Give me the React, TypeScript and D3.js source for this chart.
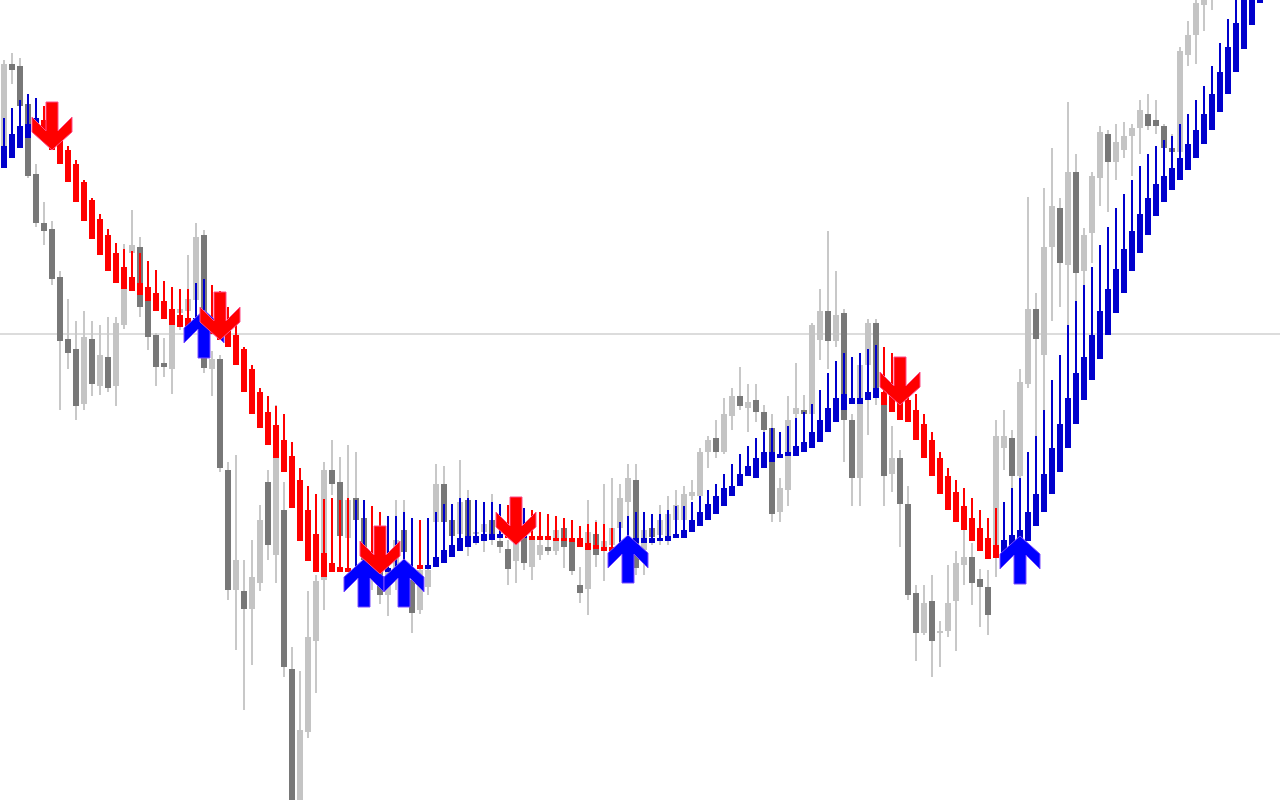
import React from 'react';
import * as d3 from 'd3';

// Price candles (price points; higher = higher on chart)
const candleOpen = [
  654,736,734,696,626,577,571,523,461,451,
  396,461,414,443,414,475,547,553,499,465,
  437,431,487,489,500,565,431,441,330,210,
  209,191,217,318,245,290,131,0,68,159,
  220,330,318,262,302,282,225,230,205,225,
  270,220,190,213,278,316,280,266,300,266,
  268,280,259,251,239,270,233,245,253,249,
  272,258,215,211,266,250,255,272,298,320,
  250,272,265,260,280,280,304,304,348,362,
  348,384,404,392,400,388,372,288,310,386,
  390,386,460,489,459,487,380,322,435,477,
  402,326,342,296,207,167,199,167,169,199,
  235,243,221,213,250,352,362,324,416,491,
  445,553,592,535,628,529,567,622,666,638,
  650,664,672,686,680,674,652,648,745,765,
  795,805,828,850,840,875,895,915,935,955,
];
const candleHigh = [
  740,747,742,698,636,598,579,529,501,479,
  489,479,475,483,483,556,590,563,503,467,
  462,500,501,545,577,570,449,445,338,345,
  240,260,295,330,395,318,153,129,209,225,
  338,360,343,355,348,300,280,245,240,300,
  300,240,245,240,336,334,295,340,310,280,
  295,306,274,260,290,285,270,265,260,280,
  282,265,233,300,280,316,322,316,336,336,
  280,285,295,304,310,314,320,352,364,380,
  402,412,433,416,416,395,386,322,404,437,
  405,477,511,569,529,491,386,440,481,481,
  406,374,350,314,215,215,225,179,235,249,
  275,257,231,230,380,390,370,431,603,507,
  612,652,602,698,646,572,628,674,670,676,
  678,676,700,706,700,676,666,753,779,805,
  820,840,860,870,885,905,925,945,960,980,
];
const candleLow = [
  650,716,690,622,573,555,515,390,431,380,
  390,404,405,408,394,471,530,483,450,414,
  423,406,470,480,495,427,404,328,200,150,
  90,135,209,240,217,123,-10,-10,62,107,
  190,305,260,255,275,225,210,196,184,210,
  200,167,186,205,240,243,255,260,244,255,
  248,255,247,215,217,230,220,240,245,245,
  232,225,197,185,233,219,245,260,280,225,
  225,255,255,255,270,270,300,297,332,342,
  346,370,390,368,378,360,278,278,294,380,
  370,380,440,431,453,338,294,294,365,395,
  294,308,253,200,139,165,123,133,163,149,
  215,195,173,165,223,330,300,320,412,364,
  390,479,493,475,499,515,537,594,588,620,
  642,624,646,670,666,650,645,645,734,736,
  769,790,815,830,830,860,880,905,925,945,
];
const candleClose = [
  736,730,694,624,577,569,521,459,447,394,
  463,416,445,412,477,511,555,493,463,433,
  433,475,491,501,563,432,441,332,210,240,
  191,223,280,255,355,133,0,70,163,219,
  330,316,264,300,280,240,245,205,230,260,
  248,187,230,230,316,278,264,298,264,268,
  276,260,253,231,274,237,260,255,249,270,
  253,229,207,268,245,259,272,302,322,232,
  270,263,280,286,295,306,308,348,360,348,
  386,404,394,398,388,370,286,312,380,392,
  386,475,489,459,485,380,322,435,477,402,
  324,342,296,205,167,197,159,169,197,237,
  243,217,213,185,364,364,324,418,491,461,
  553,594,537,628,527,565,624,668,638,658,
  664,672,690,674,674,652,648,749,765,797,
  810,830,850,840,875,895,915,935,955,970,
];

// Trend indicator bars (close > open = up/blue, else down/red)
const indHigh = [
  682,692,700,706,702,694,688,662,654,640,
  620,602,586,571,557,551,549,547,539,530,
  519,513,511,511,517,521,515,509,493,479,
  453,435,412,404,394,386,358,332,314,306,
  301,302,300,302,300,300,294,288,284,284,
  288,282,280,282,288,296,296,302,302,300,
  298,298,296,295,294,292,290,288,286,284,
  282,280,274,276,278,276,272,278,284,288,
  288,286,286,290,294,294,298,304,310,316,
  326,336,346,354,362,368,372,368,374,382,
  388,396,410,427,439,447,443,447,451,455,
  453,447,439,406,406,386,368,348,332,320,
  312,302,290,282,292,298,312,322,348,364,
  390,420,445,475,499,515,533,555,573,592,
  606,620,634,646,654,660,664,676,686,700,
  714,734,757,781,805,825,850,875,900,925,
];
const indOpen = [
  632,642,652,662,670,680,672,660,650,636,
  618,600,581,565,547,533,523,517,513,507,
  499,491,485,482,472,472,478,474,470,465,
  451,431,408,388,375,360,344,320,290,266,
  247,237,233,232,228,228,232,232,228,228,
  228,228,235,231,233,237,243,249,253,257,
  259,260,262,266,266,262,264,264,264,262,
  262,262,262,257,255,253,253,249,255,257,
  257,257,259,259,262,262,268,274,280,286,
  294,304,314,324,322,332,338,342,344,344,
  348,352,358,368,378,390,396,396,400,402,
  408,404,400,400,390,376,360,342,324,308,
  294,282,272,262,255,245,250,253,259,274,
  288,306,328,352,376,400,420,441,465,487,
  507,529,547,565,584,598,610,620,630,642,
  656,670,688,706,728,751,775,797,820,845,
];
const indClose = [
  654,666,674,676,682,660,650,636,618,598,
  579,561,545,529,517,511,509,505,499,489,
  481,475,473,470,482,482,466,460,453,435,
  408,386,372,355,342,328,292,259,239,228,
  223,228,228,228,232,232,228,228,232,232,
  232,232,231,235,243,250,255,262,264,264,
  266,266,266,262,262,266,260,260,260,259,
  259,258,253,250,251,249,249,255,260,262,
  262,262,262,264,266,270,280,288,296,304,
  312,314,326,334,342,348,348,346,348,354,
  358,368,380,392,402,406,402,402,408,412,
  395,388,380,378,360,342,324,306,290,278,
  270,259,249,241,242,260,265,270,288,306,
  326,352,376,402,427,443,465,489,511,531,
  551,569,586,602,616,624,632,642,656,670,
  686,706,728,753,777,802,825,850,875,900,
];

// Signal arrows: bar index and tip price
const upArrowIdx = [25, 45, 50, 78, 127];
const upArrowPrice = [490, 241, 241, 265, 264];
const downArrowIdx = [6, 27, 47, 64, 112];
const downArrowPrice = [650, 460, 226, 255, 395];

const levelLine = 466;

const W = 1280;
const H = 800;

const UP_SHAPE: [number, number][] = [
  [0, 0], [20, 18], [20, 33], [6, 19], [6, 48], [-6, 48], [-6, 19], [-20, 33], [-20, 18],
];

export default function App() {
  const n = candleOpen.length;
  const x = d3.scaleLinear().domain([0, n - 1]).range([4, 4 + 8 * (n - 1)]);
  const y = d3.scaleLinear().domain([0, 800]).range([H, 0]);
  const bodyW = 6;
  const wickW = 2;

  const arrowPts = (cx: number, ty: number, dir: 1 | -1) =>
    UP_SHAPE.map(([dx, dy]) => `${cx + dx},${ty + dir * dy}`).join(' ');

  return (
    <svg
      width={W}
      height={H}
      style={{ position: 'fixed', left: 0, top: 0, background: '#ffffff', display: 'block' }}
    >
      <rect x={0} y={0} width={W} height={H} fill="#ffffff" />
      <line x1={0} x2={W} y1={y(levelLine)} y2={y(levelLine)} stroke="#dcdcdc" strokeWidth={2} />
      <g>
        {candleOpen.map((o, i) => {
          const c = candleClose[i];
          const hi = candleHigh[i];
          const lo = candleLow[i];
          const cx = x(i);
          const up = c >= o;
          const top = y(Math.max(o, c));
          const bot = y(Math.min(o, c));
          return (
            <g key={i}>
              <rect x={cx - wickW / 2} y={y(hi)} width={wickW} height={Math.max(0, y(lo) - y(hi))} fill="#c8c8c8" />
              <rect x={cx - bodyW / 2} y={top} width={bodyW} height={Math.max(2, bot - top)} fill={up ? '#c4c4c4' : '#787878'} />
            </g>
          );
        })}
      </g>
      <g>
        {indOpen.map((o, i) => {
          const c = indClose[i];
          const hi = indHigh[i];
          const cx = x(i);
          const up = c > o;
          const col = up ? '#0000cc' : '#ff0000';
          const top = y(Math.max(o, c));
          const bot = y(Math.min(o, c));
          return (
            <g key={i}>
              <rect x={cx - wickW / 2} y={y(hi)} width={wickW} height={Math.max(0, top - y(hi))} fill={col} />
              <rect x={cx - bodyW / 2} y={top} width={bodyW} height={Math.max(2, bot - top)} fill={col} />
            </g>
          );
        })}
      </g>
      <g>
        {upArrowIdx.map((idx, j) => (
          <polygon
            key={'u' + j}
            points={arrowPts(x(idx), y(upArrowPrice[j]), 1)}
            fill="#0000ff"
            stroke="#7a4dff"
            strokeWidth={1}
            strokeLinejoin="miter"
          />
        ))}
        {downArrowIdx.map((idx, j) => (
          <polygon
            key={'d' + j}
            points={arrowPts(x(idx), y(downArrowPrice[j]), -1)}
            fill="#ff0000"
            stroke="#ff4d88"
            strokeWidth={1}
            strokeLinejoin="miter"
          />
        ))}
      </g>
    </svg>
  );
}
